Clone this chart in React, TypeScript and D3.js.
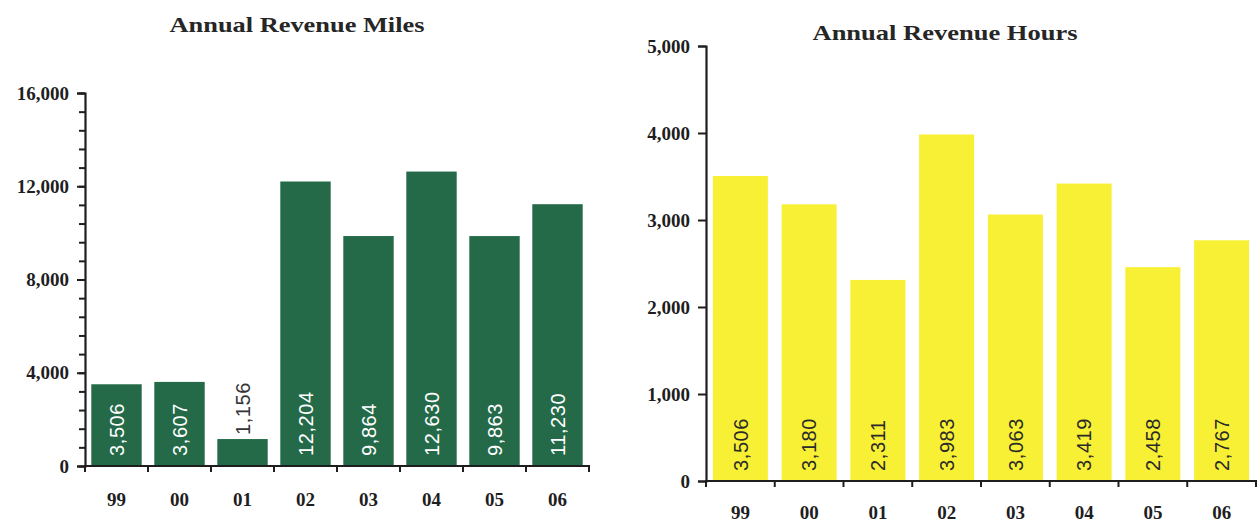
import { useEffect, useRef } from 'react'
import * as d3 from 'd3'

const years = ['99', '00', '01', '02', '03', '04', '05', '06']
const milesValues = [3506, 3607, 1156, 12204, 9864, 12630, 9863, 11230]
const hoursValues = [3506, 3180, 2311, 3983, 3063, 3419, 2458, 2767]
const milesTicks = [0, 4000, 8000, 12000, 16000]
const hoursTicks = [0, 1000, 2000, 3000, 4000, 5000]

interface PanelOpts {
  title: string
  values: number[]
  ticks: number[]
  minorStep: number
  x0: number
  x1: number
  yTop: number
  yBase: number
  titleX: number
  titleY: number
  titleLen: number
  labelY: number
  fill: string
  labelColor: string
}

const SERIF = '"Liberation Serif", "Times New Roman", serif'
const SANS = '"Liberation Sans", Arial, sans-serif'
const INK = '#1e1e1e'

function drawPanel(svg: d3.Selection<SVGSVGElement, unknown, null, undefined>, o: PanelOpts) {
  const g = svg.append('g')
  const max = o.ticks[o.ticks.length - 1]

  const x = d3.scaleBand<string>()
    .domain(years)
    .range([o.x0, o.x1])
    .paddingInner(0.2)
    .paddingOuter(0.1)

  const y = d3.scaleLinear()
    .domain([0, max])
    .range([o.yBase, o.yTop])

  // title
  g.append('text')
    .attr('x', o.titleX)
    .attr('y', o.titleY)
    .attr('text-anchor', 'middle')
    .attr('textLength', o.titleLen)
    .attr('lengthAdjust', 'spacingAndGlyphs')
    .style('font-family', SERIF)
    .style('font-weight', 'bold')
    .style('font-size', '21px')
    .style('fill', '#262626')
    .text(o.title)

  // bars
  g.selectAll('.bar')
    .data(o.values)
    .enter().append('rect')
    .attr('x', (_, i) => x(years[i])!)
    .attr('y', d => y(d))
    .attr('width', x.bandwidth())
    .attr('height', d => o.yBase - y(d))
    .attr('fill', o.fill)

  // value labels, rotated
  const fontSize = 20
  g.selectAll('.val')
    .data(o.values)
    .enter().append('text')
    .each(function (d, i) {
      const label = d3.format(',')(d)
      const cx = x(years[i])! + x.bandwidth() / 2
      const approxLen = label.length * fontSize * 0.54 + 8
      const inside = o.yBase - y(d) > approxLen + 14
      const startY = inside ? o.yBase - 10 : y(d) - 4
      d3.select(this)
        .attr('transform', `translate(${cx + fontSize * 0.36},${startY}) rotate(-90)`)
        .attr('text-anchor', 'start')
        .style('font-family', SANS)
        .style('font-size', `${fontSize}px`)
        .style('letter-spacing', '0.6px')
        .style('fill', inside ? o.labelColor : '#333')
        .text(label)
    })

  // y axis
  const yAxis = g.append('g')
    .attr('transform', `translate(${o.x0},0)`)
    .call(d3.axisLeft(y).tickValues(o.ticks).tickSize(8).tickPadding(8).tickFormat(d3.format(',') as any))

  if (o.minorStep > 0) {
    g.append('g')
      .attr('transform', `translate(${o.x0},0)`)
      .call(d3.axisLeft(y).tickValues(d3.range(0, max + 1, o.minorStep)).tickSize(6).tickFormat(() => ''))
      .select('.domain').remove()
  }

  yAxis.selectAll('text')
    .style('font-family', SERIF)
    .style('font-weight', 'bold')
    .style('font-size', '19px')
    .style('fill', INK)

  // x axis with ticks on band boundaries
  const xAxis = g.append('g')
    .attr('transform', `translate(0,${o.yBase})`)
    .call(d3.axisBottom(x).tickSize(0).tickPadding(0))

  xAxis.select('.domain').remove()
  xAxis.selectAll('text')
    .attr('y', o.labelY - o.yBase)
    .attr('dy', 0)
    .style('font-family', SERIF)
    .style('font-weight', 'bold')
    .style('font-size', '19px')
    .style('fill', INK)

  const bounds = d3.range(years.length + 1).map(i => o.x0 + i * x.step())
  g.append('g')
    .selectAll('line')
    .data(bounds)
    .enter().append('line')
    .attr('x1', d => d).attr('x2', d => d)
    .attr('y1', o.yBase).attr('y2', o.yBase + 6)
    .attr('stroke', INK)
    .attr('stroke-width', 2)

  g.append('line')
    .attr('x1', o.x0 - 1).attr('x2', o.x1 + 1)
    .attr('y1', o.yBase).attr('y2', o.yBase)
    .attr('stroke', INK)
    .attr('stroke-width', 2.2)

  g.selectAll('.domain')
    .attr('stroke', INK)
    .attr('stroke-width', 2.2)
  g.selectAll('.tick line')
    .attr('stroke', INK)
    .attr('stroke-width', 2)
}

export default function App() {
  const svgRef = useRef<SVGSVGElement>(null)

  useEffect(() => {
    if (!svgRef.current) return
    const svg = d3.select(svgRef.current)
    svg.selectAll('*').remove()

    drawPanel(svg, {
      title: 'Annual Revenue Miles',
      values: milesValues,
      ticks: milesTicks,
      minorStep: 800,
      x0: 85,
      x1: 589,
      yTop: 93,
      yBase: 466,
      titleX: 297,
      titleY: 32,
      titleLen: 255,
      labelY: 506,
      fill: '#246a48',
      labelColor: '#ffffff'
    })

    drawPanel(svg, {
      title: 'Annual Revenue Hours',
      values: hoursValues,
      ticks: hoursTicks,
      minorStep: 0,
      x0: 706,
      x1: 1256,
      yTop: 46,
      yBase: 481,
      titleX: 945,
      titleY: 40,
      titleLen: 265,
      labelY: 519,
      fill: '#f8f034',
      labelColor: '#2a2a2a'
    })
  }, [])

  return (
    <div style={{ position: 'absolute', left: 0, top: 0 }}>
      <svg ref={svgRef} width={1257} height={522} style={{ display: 'block', background: '#fff' }}></svg>
    </div>
  )
}
